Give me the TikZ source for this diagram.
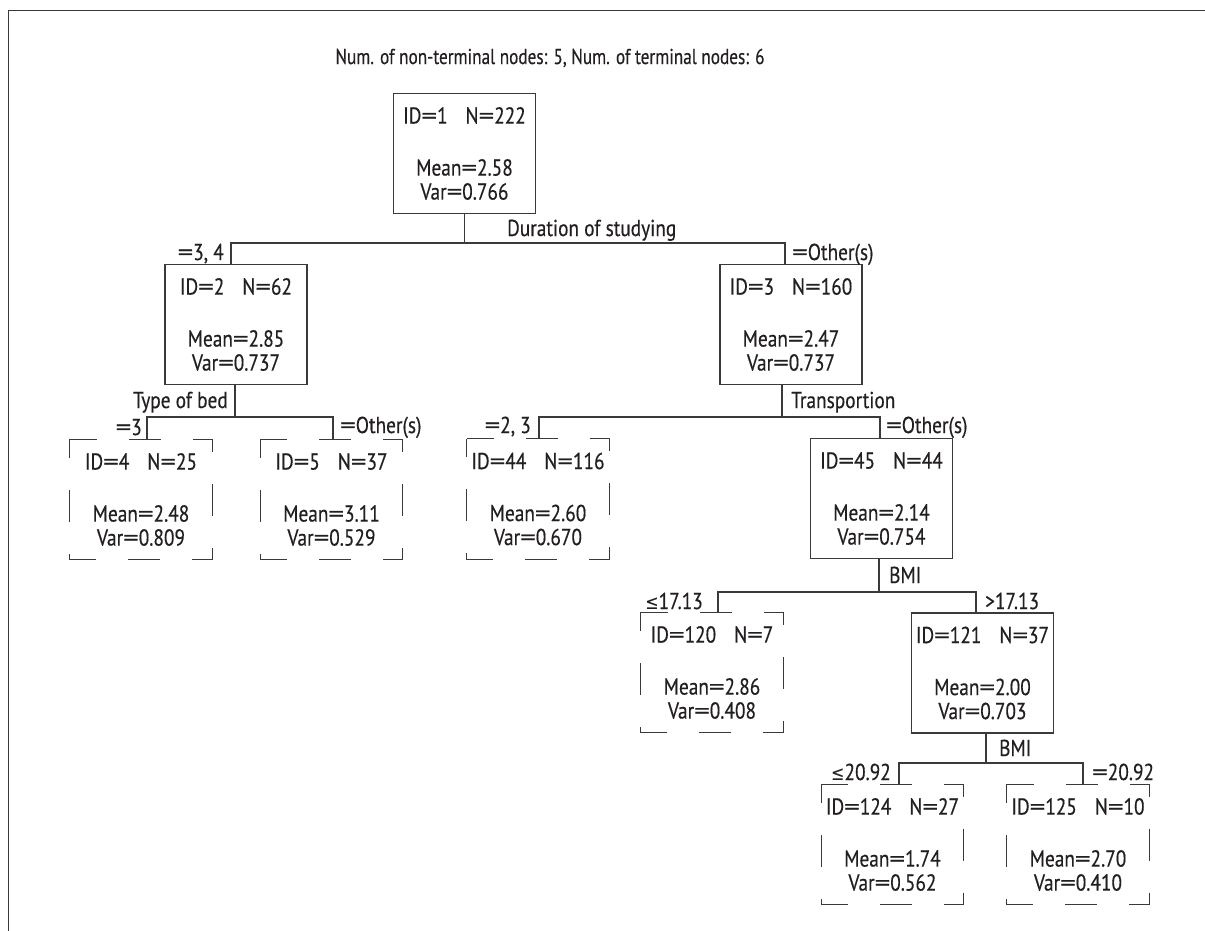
\documentclass[tikz,border=0pt]{standalone}
\usepackage{fontspec}
\setmainfont{PT Sans}[FakeStretch=0.84,FakeBold=0.4]
\newfontfamily\titlefont{PT Sans}[FakeStretch=0.8,FakeBold=0.4]
\newfontfamily\symfont{DejaVu Sans}[FakeStretch=0.8]
\newcommand\treefont{\fontsize{23}{24}\selectfont}
\newcommand\leqsym{{\symfont\fontsize{20}{24}\selectfont ≤}}
\newcommand\eq{\scalebox{1.6}[1]{=}}
\newcommand\gap{\hspace{18pt}}
\definecolor{ln}{HTML}{3A3A3A}
\definecolor{txt}{HTML}{231F20}
\begin{document}
\begin{tikzpicture}[x=1pt,y=-1pt,
  box/.style={minimum width=142pt, minimum height=120pt, inner sep=0pt, align=center, font=\treefont, text=txt},
  solidbox/.style={box, draw=ln, line width=1.3pt},
  dashbox/.style={draw=ln, line width=1.3pt, dash pattern=on 32pt off 32pt, dash phase=5pt},
  conn/.style={draw=ln, line width=1.3pt},
  lbl/.style={inner sep=0pt, font=\treefont, text=txt},
  frame/.style={draw=ln, line width=1.4pt}]
\useasboundingbox (0,0) rectangle (1205,930);
\draw[frame] (8.5,10.5) rectangle (1230,960);

\node[lbl, anchor=base, font=\titlefont\fontsize{21.5}{24}\selectfont] (title) at (550,64) {Num. of non-terminal nodes: 5, Num. of terminal nodes: 6};

% boxes
\node[solidbox] (n1) at (464.5,153.5) {ID\eq 1\gap N\eq 222\\[28pt]Mean\eq 2.58\\Var\eq 0.766};
\node[solidbox] (n2) at (236,324.5) {ID\eq 2\gap N\eq 62\\[28pt]Mean\eq 2.85\\Var\eq 0.737};
\node[solidbox] (n3) at (791,324.5) {ID\eq 3\gap N\eq 160\\[28pt]Mean\eq 2.47\\Var\eq 0.737};
\node[box] (n4) at (141,499.5) {ID\eq 4\gap N\eq 25\\[28pt]Mean\eq 2.48\\Var\eq 0.809};
\node[box] (n5) at (331.5,499.5) {ID\eq 5\gap N\eq 37\\[28pt]Mean\eq 3.11\\Var\eq 0.529};
\node[box] (n44) at (538,499) {ID\eq 44\gap N\eq 116\\[28pt]Mean\eq 2.60\\Var\eq 0.670};
\node[solidbox] (n45) at (881.5,498.5) {ID\eq 45\gap N\eq 44\\[28pt]Mean\eq 2.14\\Var\eq 0.754};
\node[box] (n120) at (712,672.5) {ID\eq 120\gap N\eq 7\\[28pt]Mean\eq 2.86\\Var\eq 0.408};
\node[solidbox] (n121) at (982.5,673) {ID\eq 121\gap N\eq 37\\[28pt]Mean\eq 2.00\\Var\eq 0.703};
\node[box] (n124) at (892.5,844.5) {ID\eq 124\gap N\eq 27\\[28pt]Mean\eq 1.74\\Var\eq 0.562};
\node[box] (n125) at (1078,844.5) {ID\eq 125\gap N\eq 10\\[28pt]Mean\eq 2.70\\Var\eq 0.410};

\foreach \n in {n4,n5,n44,n120,n124,n125}
  \draw[dashbox] (\n.north west) -- (\n.north east) -- (\n.south east) -- (\n.south west) -- cycle;

% split 1
\coordinate (j1) at (464.5,243);
\coordinate (j1l) at (231,243);
\coordinate (j1r) at (785,243);
\draw[conn] (n1.south) -- (j1);
\draw[conn] (n2.north -| j1l) -- (j1l) -- (j1r) -- (n3.north -| j1r);
\node[lbl, anchor=base west] (s1) at (507,236) {Duration of studying};
\node[lbl, anchor=base east] (b1l) at (224,260) {\eq 3, 4};
\node[lbl, anchor=base west] (b1r) at (792,260) {\eq Other(s)};

% split 2
\coordinate (j2) at (235,417);
\coordinate (j2l) at (147,417);
\coordinate (j2r) at (333,417);
\draw[conn] (n2.south -| j2) -- (j2);
\draw[conn] (n4.north -| j2l) -- (j2l) -- (j2r) -- (n5.north -| j2r);
\node[lbl, anchor=base east] (s2) at (228,408) {Type of bed};
\node[lbl, anchor=base east] (b2l) at (142,435) {\eq 3};
\node[lbl, anchor=base west] (b2r) at (340,433) {\eq Other(s)};

% split 3
\coordinate (j3) at (782,417);
\coordinate (j3l) at (539,417);
\coordinate (j3r) at (880,417);
\draw[conn] (n3.south -| j3) -- (j3);
\draw[conn] (n44.north -| j3l) -- (j3l) -- (j3r) -- (n45.north -| j3r);
\node[lbl, anchor=base west] (s3) at (791,408) {Transportion};
\node[lbl, anchor=base east] (b3l) at (531,433) {\eq 2, 3};
\node[lbl, anchor=base west] (b3r) at (886,433) {\eq Other(s)};

% split 4
\coordinate (j4) at (879,592);
\coordinate (j4l) at (718,592);
\coordinate (j4r) at (976,592);
\draw[conn] (n45.south -| j4) -- (j4);
\draw[conn] (n120.north -| j4l) -- (j4l) -- (j4r) -- (n121.north -| j4r);
\node[lbl, anchor=base west] (s4) at (889,583) {BMI};
\node[lbl, anchor=base east] (b4l) at (703,609) {\leqsym 17.13};
\node[lbl, anchor=base west] (b4r) at (985,609) {>17.13};

% split 5
\coordinate (j5) at (986,763);
\coordinate (j5l) at (899,763);
\coordinate (j5r) at (1083,763);
\draw[conn] (n121.south -| j5) -- (j5);
\draw[conn] (n124.north -| j5l) -- (j5l) -- (j5r) -- (n125.north -| j5r);
\node[lbl, anchor=base west] (s5) at (999,756) {BMI};
\node[lbl, anchor=base east] (b5l) at (891,780) {\leqsym 20.92};
\node[lbl, anchor=base west] (b5r) at (1092,780) {\eq 20.92};
\end{tikzpicture}
\end{document}
